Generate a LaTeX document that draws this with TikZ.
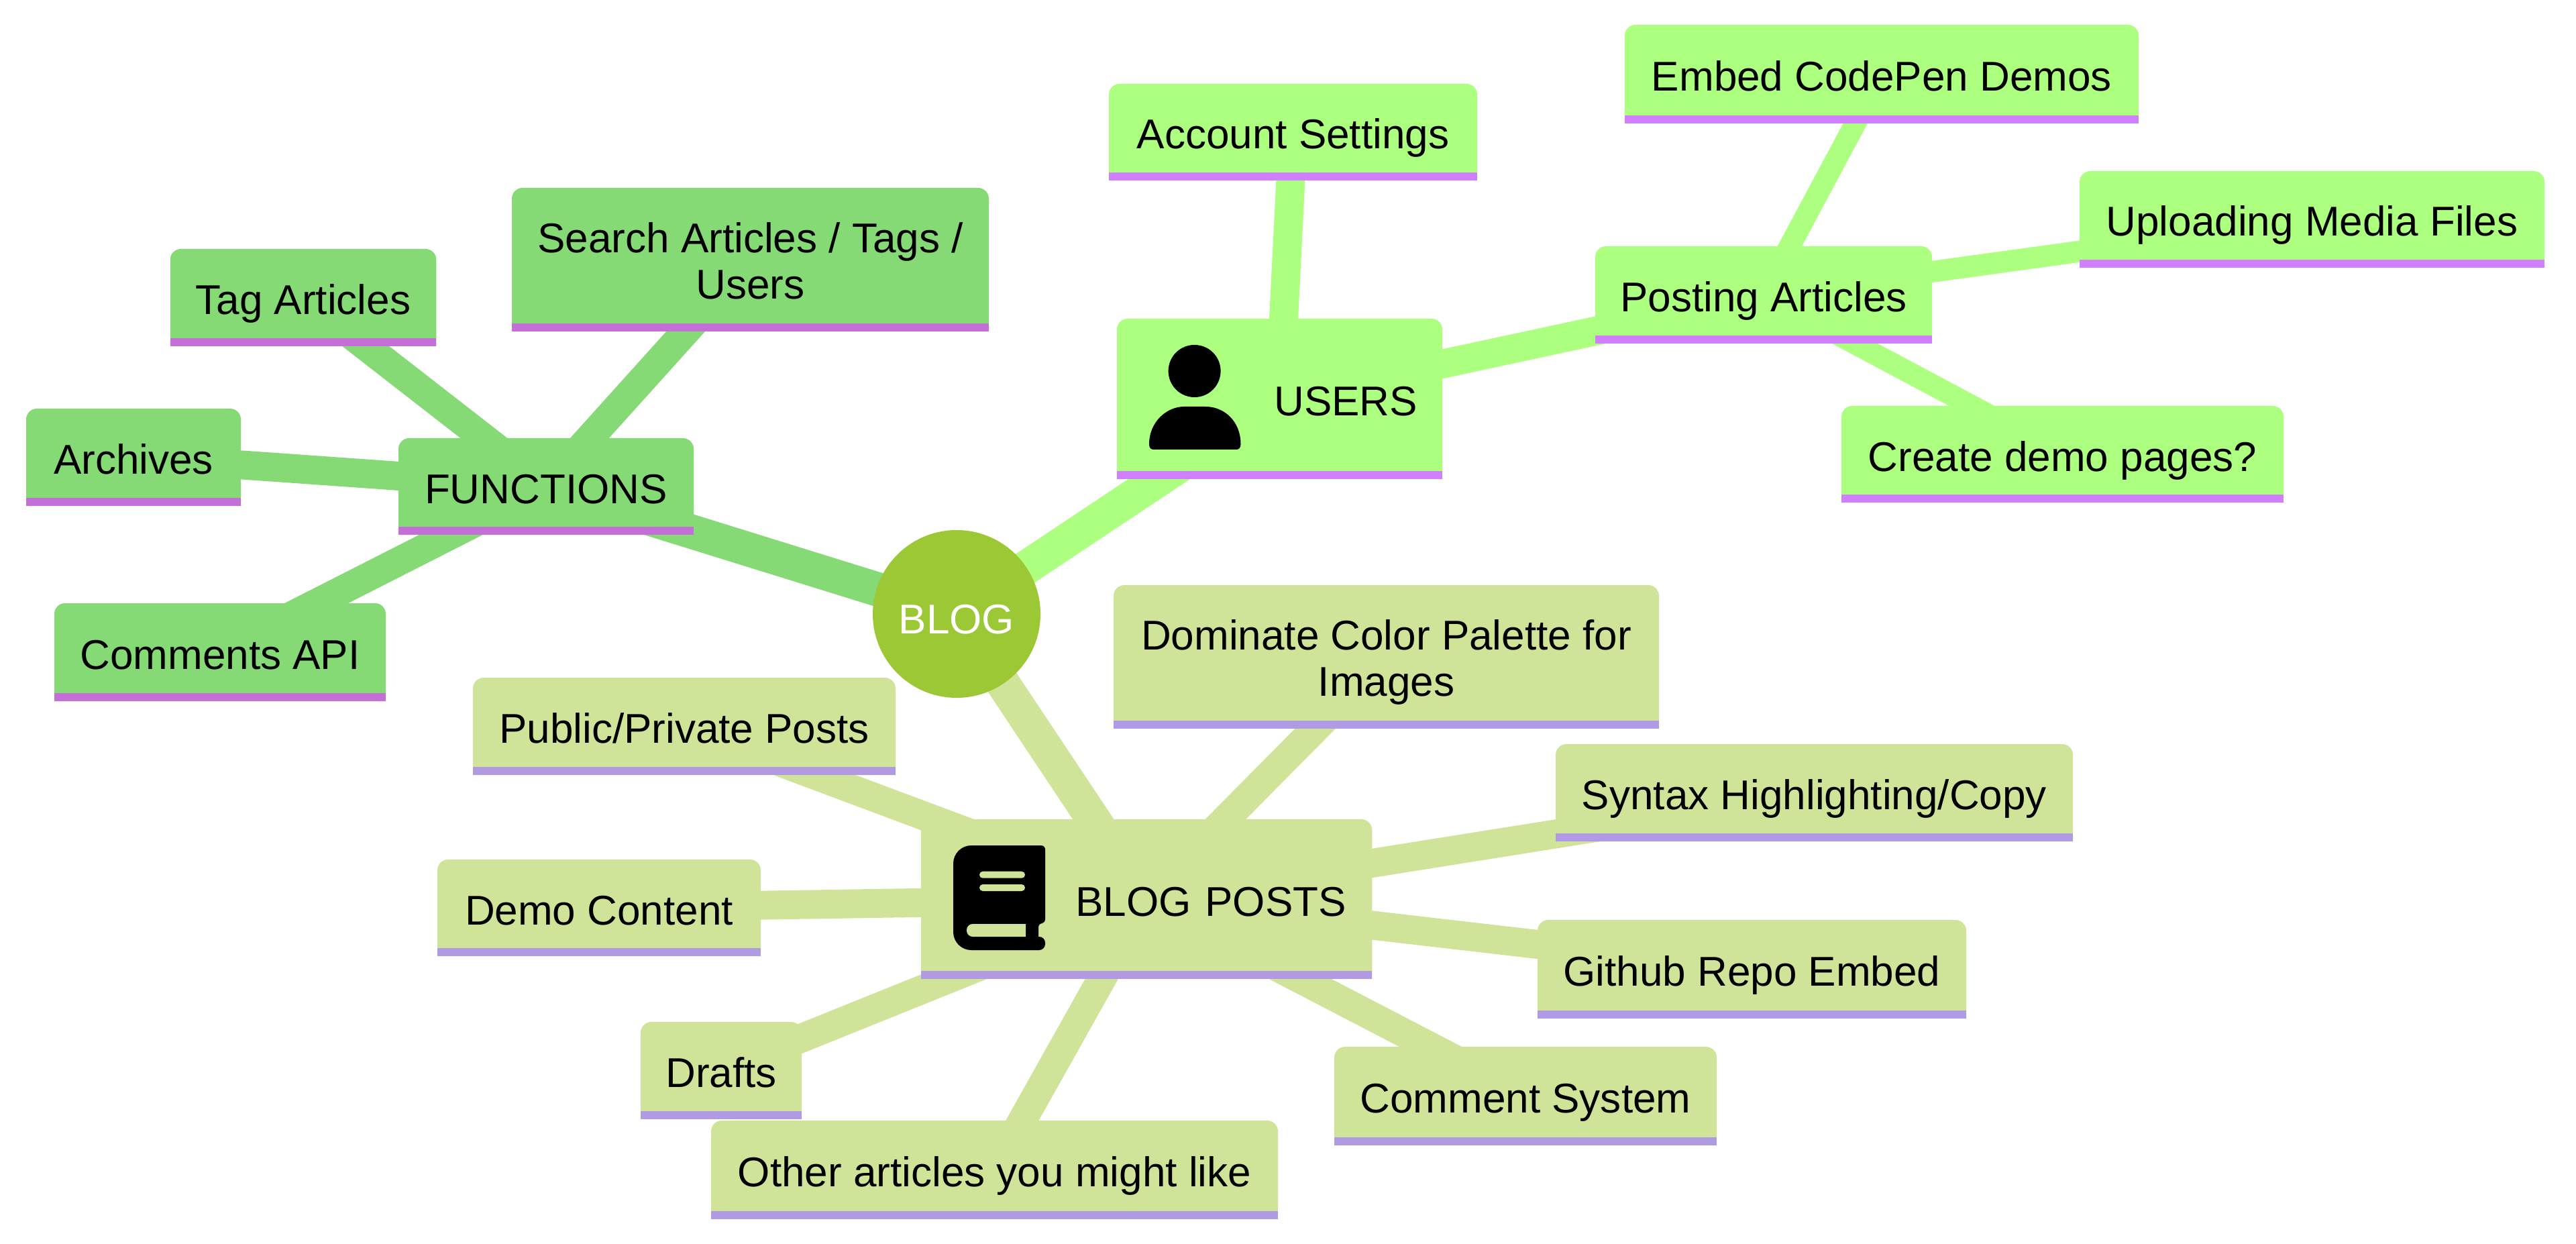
\documentclass[tikz,border=0pt]{standalone}
\usepackage{fontspec}
\setmainfont{Liberation Sans}
\usetikzlibrary{backgrounds}
\definecolor{rootcol}{HTML}{9DC835}
\definecolor{usersfill}{HTML}{ADFF80}
\definecolor{usersbar}{HTML}{D080FF}
\definecolor{funcfill}{HTML}{86DA75}
\definecolor{funcbar}{HTML}{C46FD8}
\definecolor{postsfill}{HTML}{CFE499}
\definecolor{postsbar}{HTML}{AF9AE3}
\tikzset{
  mapnode/.style={rectangle, inner sep=0pt, outer sep=0pt, align=center, font=\fontsize{17.65}{19.5}\selectfont, text height=0.5cm, text depth=0pt},
  twolines/.style={mapnode, text height=1.17cm},
  trunk/.style={line width=0.51cm},
  branch/.style={line width=0.43cm},
  twig/.style={line width=0.32cm}
}
\begin{document}
\begin{tikzpicture}[y=-1cm]
      \useasboundingbox (0, 0) rectangle (38.4, 18.54);
      \node [circle, fill=rootcol, minimum size=2.5cm, inner sep=0pt, text=white, font=\fontsize{17.65}{19.5}\selectfont, text height=0.58cm, text depth=0pt] (root) at (14.26, 9.15) {BLOG};
      \node [mapnode, minimum width=4.85cm, minimum height=2.39cm, text width=4.11cm, align=right] (users) at (19.075, 5.945) {USERS};
      \node [mapnode, minimum width=5.49cm, minimum height=1.44cm] (account) at (19.275, 1.97) {Account Settings};
      \node [mapnode, minimum width=5.02cm, minimum height=1.45cm] (posting) at (26.29, 4.395) {Posting Articles};
      \node [mapnode, minimum width=7.66cm, minimum height=1.47cm] (embed) at (28.05, 1.105) {Embed CodePen Demos};
      \node [mapnode, minimum width=6.93cm, minimum height=1.44cm] (uploading) at (34.465, 3.27) {Uploading Media Files};
      \node [mapnode, minimum width=6.59cm, minimum height=1.44cm] (create) at (30.745, 6.77) {Create demo pages?};
      \node [mapnode, minimum width=4.40cm, minimum height=1.44cm] (functions) at (8.14, 7.25) {FUNCTIONS};
      \node [twolines, minimum width=7.11cm, minimum height=2.14cm] (search) at (11.185, 3.87) {Search Articles / Tags /\\Users};
      \node [mapnode, minimum width=3.965cm, minimum height=1.45cm] (tag) at (4.52, 4.435) {Tag Articles};
      \node [mapnode, minimum width=3.2cm, minimum height=1.45cm] (archives) at (1.99, 6.815) {Archives};
      \node [mapnode, minimum width=4.94cm, minimum height=1.46cm] (comments) at (3.28, 9.72) {Comments API};
      \node [mapnode, minimum width=6.725cm, minimum height=2.38cm, text width=5.955cm, align=right] (posts) at (17.09, 13.40) {BLOG POSTS};
      \node [mapnode, minimum width=6.30cm, minimum height=1.45cm] (public) at (10.20, 10.825) {Public/Private Posts};
      \node [twolines, minimum width=8.13cm, minimum height=2.14cm] (palette) at (20.665, 9.79) {Dominate Color Palette for\\Images};
      \node [mapnode, minimum width=7.71cm, minimum height=1.45cm] (syntax) at (27.045, 11.815) {Syntax Highlighting/Copy};
      \node [mapnode, minimum width=4.82cm, minimum height=1.44cm] (democontent) at (8.93, 13.53) {Demo Content};
      \node [mapnode, minimum width=6.39cm, minimum height=1.47cm] (github) at (26.115, 14.445) {Github Repo Embed};
      \node [mapnode, minimum width=2.40cm, minimum height=1.45cm] (drafts) at (10.75, 15.955) {Drafts};
      \node [mapnode, minimum width=5.70cm, minimum height=1.47cm] (commentsys) at (22.74, 16.335) {Comment System};
      \node [mapnode, minimum width=8.45cm, minimum height=1.47cm] (other) at (14.825, 17.435) {Other articles you might like};
      \begin{scope}[on background layer]
        \draw [trunk, usersfill] (root.center) -- (users.center);
        \draw [trunk, funcfill] (root.center) -- (functions.center);
        \draw [trunk, postsfill] (root.center) -- (posts.center);
        \foreach \leaf in {account, posting}
          \draw [branch, usersfill] (users.center) -- (\leaf.center);
        \foreach \leaf in {embed, uploading, create}
          \draw [twig, usersfill] (posting.center) -- (\leaf.center);
        \foreach \leaf in {search, tag, archives, comments}
          \draw [branch, funcfill] (functions.center) -- (\leaf.center);
        \foreach \leaf in {public, palette, syntax, democontent, github, drafts, commentsys, other}
          \draw [branch, postsfill] (posts.center) -- (\leaf.center);
        \foreach \card/\cardfill/\cardbar in {users/usersfill/usersbar, account/usersfill/usersbar, posting/usersfill/usersbar, embed/usersfill/usersbar, uploading/usersfill/usersbar, create/usersfill/usersbar, functions/funcfill/funcbar, search/funcfill/funcbar, tag/funcfill/funcbar, archives/funcfill/funcbar, comments/funcfill/funcbar, posts/postsfill/postsbar, public/postsfill/postsbar, palette/postsfill/postsbar, syntax/postsfill/postsbar, democontent/postsfill/postsbar, github/postsfill/postsbar, drafts/postsfill/postsbar, commentsys/postsfill/postsbar, other/postsfill/postsbar} {
          \fill [\cardfill] (\card.south west) [rounded corners=0.16cm] -- (\card.north west) -- (\card.north east) [sharp corners] -- (\card.south east) -- cycle;
          \fill [\cardbar] (\card.south west) rectangle ([yshift=0.12cm] \card.south east);
        }
      \end{scope}
      \fill (17.806, 5.53) circle (0.39);
      \fill (17.13, 6.62) .. controls (17.13, 6.28) and (17.4, 6.06) .. (17.65, 6.06) -- (17.97, 6.06) .. controls (18.25, 6.06) and (18.495, 6.28) .. (18.495, 6.62) .. controls (18.495, 6.68) and (18.46, 6.70) .. (18.43, 6.70) -- (17.2, 6.70) .. controls (17.16, 6.70) and (17.13, 6.68) .. (17.13, 6.62) -- cycle;
      \fill (14.21, 13.2) [rounded corners=0.27cm] -- (14.21, 12.60) [rounded corners=0.06cm] -- (15.58, 12.60) -- (15.58, 13.76) -- (15.48, 13.76) [sharp corners] -- (15.48, 13.96) [rounded corners=0.09cm] -- (15.58, 13.96) -- (15.58, 14.16) [rounded corners=0.27cm] -- (14.21, 14.16) [sharp corners] -- cycle;
      \fill [postsfill, rounded corners=0.05cm] (14.60, 12.987) rectangle (15.28, 13.087);
      \fill [postsfill, rounded corners=0.05cm] (14.60, 13.18) rectangle (15.28, 13.28);
      \fill [postsfill] (15.29, 13.77) [rounded corners=0.09cm] -- (14.41, 13.77) -- (14.41, 13.96) [sharp corners] -- (15.29, 13.96) -- cycle;
    \end{tikzpicture}
\end{document}
